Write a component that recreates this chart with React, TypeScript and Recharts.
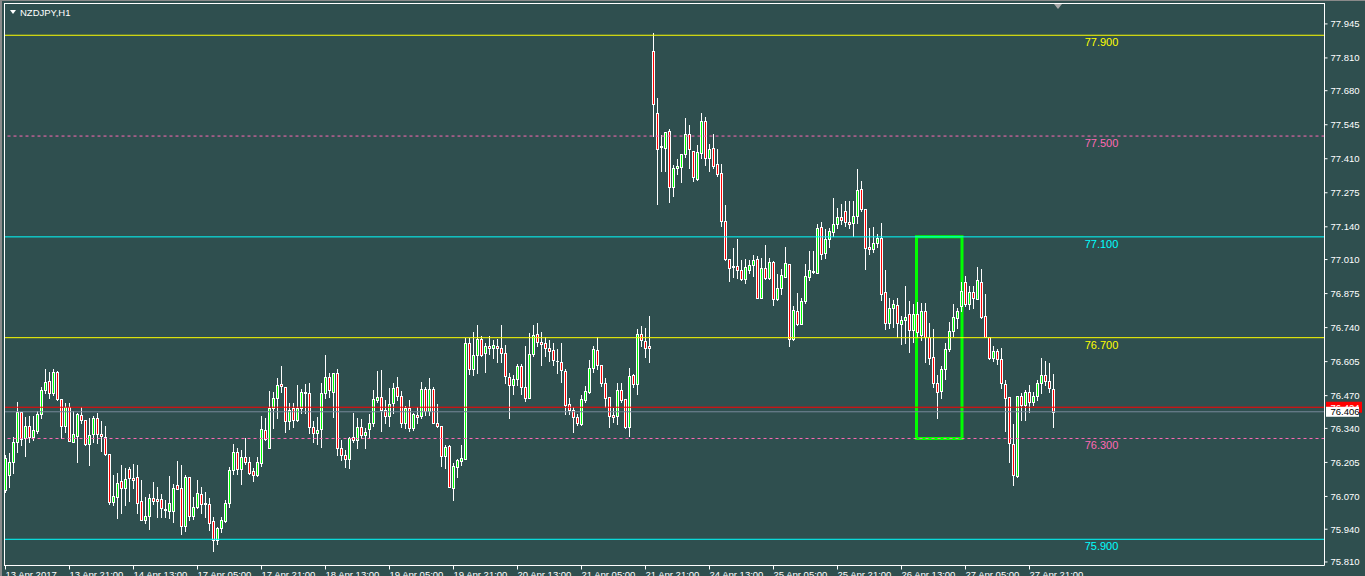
import React from 'react';
import { ComposedChart, Bar, XAxis, YAxis, ReferenceLine, ReferenceArea } from 'recharts';

// NZDJPY H1 candles, bar 0 = 13 Apr 2017 05:00 (one bar per hour)
const OPEN = [
  76.095, 76.157, 76.205, 76.285, 76.407, 76.301, 76.349, 76.305, 76.329, 76.399,
  76.491, 76.527, 76.479, 76.565, 76.455, 76.351, 76.423, 76.285, 76.309, 76.395,
  76.375, 76.277, 76.317, 76.383, 76.317, 76.305, 76.237, 76.047, 76.067, 76.131,
  76.103, 76.177, 76.143, 76.147, 76.051, 75.975, 75.991, 76.063, 76.059, 76.059,
  76.019, 76.011, 76.011, 76.115, 76.103, 75.953, 76.147, 75.991, 76.027, 76.079,
  76.043, 76.039, 75.971, 75.897, 75.945, 75.971, 76.043, 76.173, 76.245, 76.177,
  76.225, 76.205, 76.169, 76.157, 76.201, 76.333, 76.261, 76.419, 76.459, 76.515,
  76.503, 76.371, 76.419, 76.375, 76.419, 76.483, 76.479, 76.345, 76.321, 76.337,
  76.479, 76.543, 76.483, 76.561, 76.261, 76.233, 76.217, 76.305, 76.293, 76.345,
  76.313, 76.337, 76.363, 76.451, 76.463, 76.415, 76.391, 76.439, 76.503, 76.467,
  76.363, 76.419, 76.341, 76.395, 76.391, 76.495, 76.411, 76.495, 76.363, 76.349,
  76.229, 76.269, 76.103, 76.185, 76.209, 76.217, 76.677, 76.577, 76.633, 76.693,
  76.641, 76.665, 76.661, 76.665, 76.661, 76.641, 76.543, 76.511, 76.535, 76.589,
  76.503, 76.459, 76.637, 76.713, 76.681, 76.677, 76.661, 76.653, 76.609, 76.605,
  76.569, 76.435, 76.415, 76.387, 76.359, 76.451, 76.483, 76.581, 76.653, 76.593,
  76.519, 76.463, 76.395, 76.391, 76.491, 76.455, 76.345, 76.551, 76.515, 76.713,
  76.685, 76.665, 77.837, 77.591, 77.457, 77.453, 77.521, 77.299, 77.373, 77.377,
  77.429, 77.509, 77.441, 77.331, 77.433, 77.559, 77.413, 77.453, 77.389, 77.353,
  77.163, 77.013, 76.981, 76.985, 76.969, 76.933, 76.969, 76.989, 77.013, 76.859,
  76.977, 76.937, 77.001, 76.855, 76.899, 76.941, 76.993, 76.693, 76.807, 76.755,
  76.847, 76.941, 76.961, 76.957, 77.139, 77.037, 77.093, 77.121, 77.151, 77.179,
  77.203, 77.159, 77.155, 77.183, 77.291, 77.211, 77.061, 77.053, 77.077, 77.097,
  76.883, 76.759, 76.819, 76.831, 76.755, 76.771, 76.795, 76.731, 76.795, 76.709,
  76.807, 76.701, 76.625, 76.519, 76.487, 76.577, 76.657, 76.725, 76.779, 76.827,
  76.919, 76.835, 76.883, 76.855, 76.919, 76.787, 76.701, 76.621, 76.649, 76.617,
  76.515, 76.463, 76.277, 76.151, 76.467, 76.431, 76.483, 76.443, 76.467, 76.519,
  76.551, 76.527, 76.495,
];
const HIGH = [
  76.233, 76.241, 76.305, 76.443, 76.407, 76.387, 76.391, 76.391, 76.411, 76.503,
  76.577, 76.565, 76.577, 76.569, 76.455, 76.439, 76.439, 76.411, 76.403, 76.423,
  76.375, 76.383, 76.391, 76.403, 76.371, 76.349, 76.237, 76.155, 76.165, 76.193,
  76.181, 76.185, 76.197, 76.193, 76.135, 76.067, 76.079, 76.127, 76.107, 76.079,
  76.055, 76.151, 76.119, 76.209, 76.193, 76.155, 76.147, 76.067, 76.135, 76.107,
  76.087, 76.063, 75.987, 75.949, 75.987, 76.055, 76.185, 76.277, 76.261, 76.253,
  76.301, 76.225, 76.181, 76.225, 76.391, 76.383, 76.487, 76.483, 76.539, 76.589,
  76.503, 76.439, 76.439, 76.511, 76.495, 76.515, 76.519, 76.371, 76.387, 76.519,
  76.633, 76.561, 76.561, 76.577, 76.293, 76.253, 76.305, 76.403, 76.383, 76.379,
  76.341, 76.399, 76.491, 76.569, 76.573, 76.451, 76.499, 76.519, 76.543, 76.487,
  76.427, 76.451, 76.403, 76.423, 76.523, 76.503, 76.539, 76.503, 76.435, 76.349,
  76.273, 76.273, 76.201, 76.217, 76.273, 76.697, 76.697, 76.721, 76.749, 76.705,
  76.677, 76.705, 76.689, 76.693, 76.749, 76.669, 76.561, 76.551, 76.597, 76.597,
  76.665, 76.717, 76.749, 76.757, 76.721, 76.701, 76.689, 76.677, 76.657, 76.677,
  76.577, 76.459, 76.423, 76.399, 76.471, 76.507, 76.613, 76.665, 76.701, 76.593,
  76.539, 76.463, 76.419, 76.519, 76.519, 76.455, 76.581, 76.557, 76.733, 76.745,
  76.737, 76.787, 77.909, 77.651, 77.505, 77.517, 77.529, 77.385, 77.409, 77.429,
  77.571, 77.543, 77.441, 77.465, 77.591, 77.575, 77.469, 77.509, 77.449, 77.389,
  77.227, 77.013, 77.057, 77.093, 77.009, 77.013, 77.009, 77.029, 77.025, 77.017,
  77.069, 77.017, 77.005, 76.953, 76.973, 77.061, 76.993, 76.827, 76.879, 76.859,
  76.993, 77.045, 77.045, 77.151, 77.159, 77.133, 77.137, 77.255, 77.215, 77.231,
  77.243, 77.243, 77.243, 77.369, 77.323, 77.211, 77.135, 77.139, 77.113, 77.155,
  76.969, 76.859, 76.851, 76.859, 76.787, 76.907, 76.847, 76.835, 76.843, 76.839,
  76.839, 76.759, 76.733, 76.553, 76.589, 76.677, 76.763, 76.835, 76.819, 76.919,
  76.945, 76.907, 76.907, 76.981, 76.973, 76.875, 76.701, 76.665, 76.657, 76.661,
  76.531, 76.463, 76.359, 76.467, 76.479, 76.491, 76.511, 76.483, 76.531, 76.621,
  76.609, 76.601, 76.557,
];
const LOW = [
  76.087, 76.107, 76.165, 76.245, 76.273, 76.229, 76.285, 76.293, 76.321, 76.383,
  76.479, 76.459, 76.471, 76.451, 76.301, 76.325, 76.289, 76.285, 76.205, 76.363,
  76.273, 76.193, 76.285, 76.281, 76.249, 76.233, 76.039, 76.035, 75.983, 76.003,
  76.035, 76.051, 76.103, 76.003, 75.975, 75.963, 75.941, 76.039, 75.987, 75.987,
  75.987, 75.983, 75.967, 76.099, 75.921, 75.933, 75.975, 75.979, 76.023, 76.003,
  75.987, 75.937, 75.853, 75.881, 75.929, 75.967, 76.027, 76.161, 76.161, 76.119,
  76.197, 76.161, 76.131, 76.151, 76.189, 76.293, 76.261, 76.341, 76.383, 76.483,
  76.325, 76.337, 76.345, 76.371, 76.403, 76.403, 76.321, 76.285, 76.277, 76.265,
  76.459, 76.463, 76.387, 76.233, 76.213, 76.185, 76.181, 76.285, 76.261, 76.301,
  76.261, 76.305, 76.351, 76.443, 76.329, 76.363, 76.349, 76.403, 76.451, 76.345,
  76.341, 76.329, 76.333, 76.363, 76.383, 76.395, 76.395, 76.363, 76.345, 76.189,
  76.181, 76.107, 76.055, 76.147, 76.193, 76.217, 76.557, 76.553, 76.561, 76.629,
  76.565, 76.637, 76.621, 76.605, 76.605, 76.519, 76.383, 76.475, 76.511, 76.475,
  76.447, 76.459, 76.629, 76.665, 76.593, 76.629, 76.609, 76.593, 76.561, 76.523,
  76.399, 76.399, 76.325, 76.355, 76.355, 76.443, 76.479, 76.565, 76.577, 76.507,
  76.423, 76.345, 76.367, 76.359, 76.443, 76.341, 76.309, 76.503, 76.475, 76.665,
  76.625, 76.605, 77.501, 77.231, 77.361, 77.361, 77.239, 77.263, 77.349, 77.319,
  77.417, 77.373, 77.323, 77.327, 77.413, 77.385, 77.361, 77.373, 77.343, 77.145,
  77.009, 76.923, 76.941, 76.937, 76.929, 76.915, 76.955, 76.945, 76.859, 76.859,
  76.933, 76.933, 76.831, 76.851, 76.875, 76.941, 76.665, 76.689, 76.751, 76.755,
  76.839, 76.927, 76.955, 76.957, 77.013, 77.017, 77.061, 77.105, 77.135, 77.151,
  77.143, 77.135, 77.105, 77.155, 77.203, 76.973, 77.033, 77.041, 77.061, 76.851,
  76.735, 76.739, 76.743, 76.701, 76.673, 76.677, 76.645, 76.681, 76.701, 76.689,
  76.605, 76.597, 76.503, 76.383, 76.459, 76.535, 76.649, 76.705, 76.739, 76.807,
  76.827, 76.815, 76.819, 76.855, 76.779, 76.701, 76.617, 76.609, 76.597, 76.499,
  76.329, 76.205, 76.115, 76.147, 76.375, 76.375, 76.407, 76.431, 76.451, 76.479,
  76.511, 76.483, 76.345,
];
const CLOSE = [
  76.221, 76.205, 76.285, 76.407, 76.297, 76.349, 76.305, 76.333, 76.399, 76.491,
  76.523, 76.479, 76.565, 76.455, 76.349, 76.423, 76.289, 76.317, 76.399, 76.375,
  76.277, 76.313, 76.383, 76.317, 76.309, 76.237, 76.047, 76.071, 76.123, 76.103,
  76.139, 76.143, 76.135, 76.043, 75.975, 75.991, 76.063, 76.051, 76.051, 76.023,
  76.015, 76.043, 76.103, 76.099, 75.953, 76.147, 75.991, 76.027, 76.083, 76.039,
  76.039, 75.963, 75.897, 75.945, 75.975, 76.043, 76.173, 76.245, 76.177, 76.225,
  76.205, 76.165, 76.157, 76.205, 76.337, 76.297, 76.419, 76.459, 76.511, 76.507,
  76.371, 76.415, 76.375, 76.419, 76.483, 76.479, 76.345, 76.321, 76.333, 76.479,
  76.543, 76.491, 76.561, 76.261, 76.233, 76.217, 76.301, 76.293, 76.345, 76.313,
  76.325, 76.363, 76.455, 76.463, 76.415, 76.391, 76.435, 76.499, 76.467, 76.363,
  76.419, 76.341, 76.399, 76.387, 76.495, 76.411, 76.495, 76.363, 76.349, 76.229,
  76.265, 76.107, 76.189, 76.213, 76.221, 76.677, 76.577, 76.633, 76.693, 76.633,
  76.665, 76.661, 76.669, 76.661, 76.641, 76.547, 76.511, 76.535, 76.589, 76.503,
  76.459, 76.637, 76.709, 76.681, 76.673, 76.661, 76.649, 76.613, 76.609, 76.573,
  76.431, 76.415, 76.387, 76.363, 76.455, 76.487, 76.581, 76.657, 76.593, 76.519,
  76.459, 76.391, 76.387, 76.491, 76.451, 76.345, 76.547, 76.515, 76.713, 76.689,
  76.661, 76.661, 77.627, 77.449, 77.461, 77.517, 77.299, 77.373, 77.381, 77.429,
  77.509, 77.449, 77.339, 77.437, 77.559, 77.413, 77.449, 77.381, 77.349, 77.163,
  77.013, 76.977, 76.985, 76.969, 76.933, 76.981, 76.989, 77.009, 76.859, 76.977,
  76.937, 77.001, 76.855, 76.899, 76.949, 76.997, 76.693, 76.811, 76.755, 76.847,
  76.945, 76.969, 76.965, 77.135, 77.033, 77.093, 77.125, 77.151, 77.179, 77.167,
  77.159, 77.151, 77.183, 77.287, 77.211, 77.057, 77.053, 77.077, 77.097, 76.875,
  76.759, 76.819, 76.835, 76.759, 76.771, 76.783, 76.731, 76.795, 76.721, 76.807,
  76.701, 76.621, 76.519, 76.483, 76.577, 76.657, 76.725, 76.783, 76.807, 76.887,
  76.835, 76.883, 76.859, 76.927, 76.783, 76.701, 76.621, 76.649, 76.617, 76.519,
  76.459, 76.281, 76.155, 76.467, 76.431, 76.483, 76.443, 76.467, 76.519, 76.551,
  76.527, 76.499, 76.406,
];

const X_LABELS = [
  '13 Apr 2017', '13 Apr 21:00', '14 Apr 13:00', '17 Apr 05:00', '17 Apr 21:00',
  '18 Apr 13:00', '19 Apr 05:00', '19 Apr 21:00', '20 Apr 13:00', '21 Apr 05:00',
  '21 Apr 21:00', '24 Apr 13:00', '25 Apr 05:00', '25 Apr 21:00', '26 Apr 13:00',
  '27 Apr 05:00', '27 Apr 21:00',
];
const X_LABEL_STEP = 16;
const Y_TICKS = [
  77.945, 77.81, 77.68, 77.545, 77.41, 77.275, 77.14, 77.01, 76.875,
  76.74, 76.605, 76.47, 76.34, 76.205, 76.07, 75.94, 75.81,
];
const LEVEL_PRICES = [77.9, 77.5, 77.1, 76.7, 76.3, 75.9];
const LEVEL_COLORS = ['#ffff00', '#ff69b4', '#00ffff', '#ffff00', '#ff69b4', '#00ffff'];
const LEVEL_DASHED = [false, true, false, false, true, false];
const BID = 76.406;
const ASK = 76.424;
const BOX_BARS = [227.75, 239.125];
const BOX_PRICES = [76.3, 77.1];

const FONT = '"Liberation Sans", Arial, sans-serif';
const BG = '#2f4f4f';

const data = OPEN.map((o, i) => ({
  i,
  o,
  h: HIGH[i],
  l: LOW[i],
  c: CLOSE[i],
  range: [LOW[i], HIGH[i]],
}));
const X_TICKS = X_LABELS.map((_, k) => k * X_LABEL_STEP);

const Candle = (props: any) => {
  const { x, y, width, height, payload } = props;
  if (x == null || y == null || !payload) return null;
  const { o, h, l, c } = payload;
  const span = h - l;
  const yOf = (v: number) => (span > 0 ? y + ((h - v) / span) * height : y);
  const cx = Math.floor(x + width / 2) + 0.5;
  const yH = Math.round(yOf(h));
  const yL = Math.round(yOf(l));
  const yO = Math.round(yOf(o));
  const yC = Math.round(yOf(c));
  const top = Math.min(yO, yC);
  const bot = Math.max(yO, yC);
  const bull = c >= o;
  return (
    <g>
      <rect x={cx - 0.5} y={yH} width={1} height={Math.max(1, yL - yH + 1)} fill="#ffffff" />
      <rect x={cx - 1.5} y={top} width={3} height={bot - top + 1} fill="#ffffff" />
      {bot - top >= 2 && (
        <rect x={cx - 0.5} y={top + 1} width={1} height={bot - top - 1} fill={bull ? '#00ff00' : '#ff0000'} />
      )}
    </g>
  );
};

const XTick = (props: any) => {
  const { x, y, payload } = props;
  const label = X_LABELS[Math.round(payload.value / X_LABEL_STEP)];
  if (label == null) return null;
  const px = Math.floor(x) + 0.5;
  return (
    <g>
      <line x1={px} x2={px} y1={y} y2={y + 4} stroke="#ffffff" strokeWidth={1} />
      <text x={px} y={y + 12.5} fill="#ffffff" fontSize={9.5} fontFamily={FONT} textAnchor="start">
        {label}
      </text>
    </g>
  );
};

const levelLabel = (price: number, color: string) => (props: any) => {
  const vb = props.viewBox || {};
  return (
    <text
      x={vb.x + 1097}
      y={vb.y + 11}
      fill={color}
      fontSize={11}
      fontFamily={FONT}
      textAnchor="middle"
    >
      {price.toFixed(3)}
    </text>
  );
};

const priceTag = (price: number, fill: string, textFill: string, w: number, h: number) => (props: any) => {
  const vb = props.viewBox || {};
  const x0 = vb.x + vb.width + 1.5;
  const y0 = vb.y - h / 2;
  return (
    <g>
      <rect x={x0} y={y0} width={w} height={h} fill={fill} />
      <text x={x0 + 4.5} y={y0 + h - 2} fill={textFill} fontSize={9.5} fontFamily={FONT}>
        {price.toFixed(3)}
      </text>
    </g>
  );
};

export default function App() {
  return (
    <div
      style={{
        position: 'fixed',
        left: 0,
        top: 0,
        width: 1365,
        height: 576,
        background: BG,
        overflow: 'hidden',
      }}
    >
      <ComposedChart
        width={1365}
        height={576}
        data={data}
        margin={{ top: 3.5, right: 0, bottom: 0, left: 4.5 }}
        barCategoryGap={0}
        barGap={0}
      >
        <XAxis
          type="number"
          dataKey="i"
          domain={[-0.25, 329.75]}
          allowDataOverflow
          ticks={X_TICKS}
          interval={0}
          height={10.5}
          tickSize={0}
          tickMargin={0}
          tickLine={false}
          axisLine={{ stroke: '#ffffff' }}
          tick={<XTick />}
        />
        <YAxis
          orientation="right"
          type="number"
          domain={[75.796, 78.026]}
          allowDataOverflow
          ticks={Y_TICKS}
          interval={0}
          width={40.5}
          tickSize={3}
          tickMargin={3}
          axisLine={{ stroke: '#ffffff' }}
          tickLine={{ stroke: '#ffffff' }}
          tick={{ fill: '#ffffff', fontSize: 9.5, fontFamily: FONT }}
          tickFormatter={(v: number) => v.toFixed(3)}
        />
        {LEVEL_PRICES.map((p, k) => (
          <ReferenceLine
            key={'lvl' + k}
            y={p}
            stroke={LEVEL_COLORS[k]}
            strokeWidth={1}
            strokeDasharray={LEVEL_DASHED[k] ? '3 3' : undefined}
            label={levelLabel(p, LEVEL_COLORS[k])}
          />
        ))}
        <ReferenceLine y={ASK} stroke="#ff0000" strokeWidth={1} label={priceTag(ASK, '#ff0000', '#ffffff', 36, 11)} />
        <ReferenceLine y={BID} stroke="#778899" strokeWidth={1} label={priceTag(BID, '#ffffff', '#000000', 33, 10)} />
        <Bar dataKey="range" shape={<Candle />} isAnimationActive={false} barSize={4} />
        <ReferenceArea
          x1={BOX_BARS[0]}
          x2={BOX_BARS[1]}
          y1={BOX_PRICES[0]}
          y2={BOX_PRICES[1]}
          fill="none"
          fillOpacity={0}
          stroke="#00ff00"
          strokeWidth={3}
          ifOverflow="visible"
        />
      </ComposedChart>
      {/* window frame */}
      <div style={{ position: 'absolute', left: 0, top: 0, width: 1365, height: 1, background: '#8a8a8a' }} />
      <div style={{ position: 'absolute', left: 0, top: 0, width: 2, height: 576, background: '#8a8a8a' }} />
      <div style={{ position: 'absolute', left: 4, top: 3, width: 1321, height: 1, background: '#ffffff' }} />
      <div style={{ position: 'absolute', left: 4, top: 3, width: 1, height: 563, background: '#ffffff' }} />
      {/* title */}
      <div
        style={{
          position: 'absolute',
          left: 10,
          top: 10,
          width: 0,
          height: 0,
          borderLeft: '3px solid transparent',
          borderRight: '3px solid transparent',
          borderTop: '4px solid #ffffff',
        }}
      />
      <div
        style={{
          position: 'absolute',
          left: 20,
          top: 7,
          color: '#ffffff',
          fontFamily: FONT,
          fontSize: 9.5,
          lineHeight: '11px',
          whiteSpace: 'nowrap',
        }}
      >
        NZDJPY,H1
      </div>
      {/* chart shift marker */}
      <div
        style={{
          position: 'absolute',
          left: 1054,
          top: 4,
          width: 0,
          height: 0,
          borderLeft: '4px solid transparent',
          borderRight: '4px solid transparent',
          borderTop: '5px solid #a9a9a9',
        }}
      />
    </div>
  );
}
